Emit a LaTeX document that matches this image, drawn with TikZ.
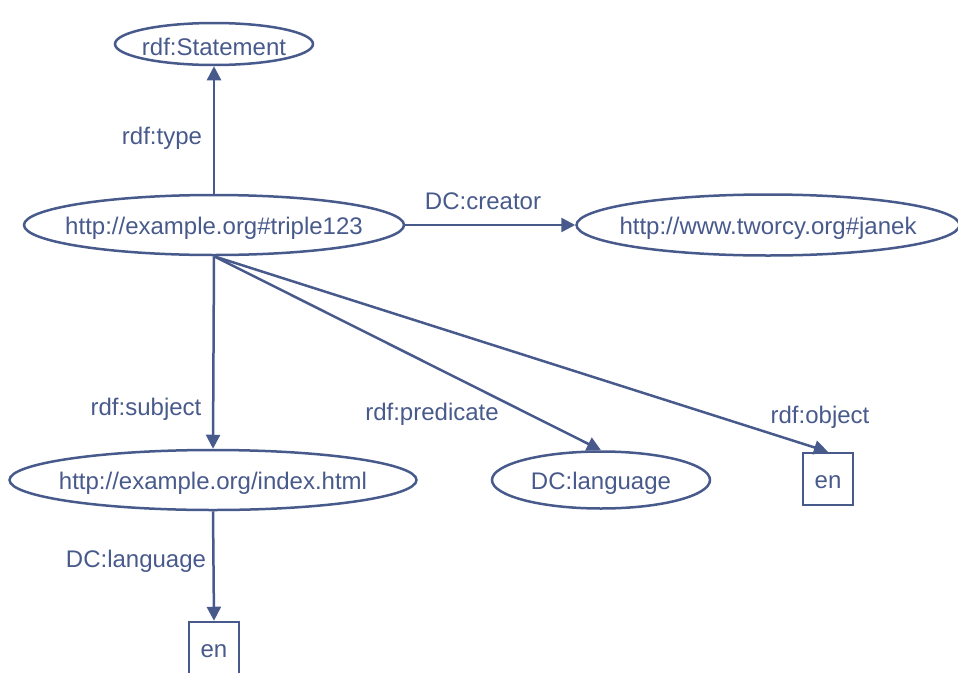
\documentclass[tikz,border=0pt]{standalone}
\usepackage{fontspec}
\setmainfont{Liberation Sans}
\usetikzlibrary{shapes.geometric,arrows.meta}
\definecolor{rdfblue}{RGB}{72,90,140}
\tikzset{
  every node/.style={text=rdfblue, font=\fontsize{24}{28}\selectfont},
  txt/.style={inner sep=0pt, yshift=-3pt},
  res/.style={ellipse, draw=rdfblue, line width=2.5pt, inner sep=0pt,
              label={[txt]center:#1}},
  lit/.style={rectangle, draw=rdfblue, line width=2.5pt, inner sep=0pt,
              minimum width=50pt, minimum height=52pt, label={[txt]center:#1}},
  edge/.style={draw=rdfblue, line width=2.5pt,
               -{Triangle[length=14pt,width=14pt]}},
  lbl/.style={inner sep=0pt}
}
\begin{document}
\begin{tikzpicture}[x=1pt,y=-1pt]
  \clip (0,0) rectangle (958,672);
  % resources (ellipses) and literals (boxes)
  \node[res={rdf:Statement}, minimum width=198pt, minimum height=42pt] (stmt) at (214,44) {};
  \node[res={http://example.org\#triple123}, minimum width=380pt, minimum height=60pt] (triple) at (214,225) {};
  \node[res={http://www.tworcy.org\#janek}, minimum width=383pt, minimum height=61pt] (janek) at (768,225) {};
  \node[res={http://example.org/index.html}, minimum width=407pt, minimum height=60pt] (index) at (213,480) {};
  \node[res={DC:language}, minimum width=218pt, minimum height=57pt] (lang) at (601,480) {};
  \node[lit=en] (enR) at (828,479) {};
  \node[lit=en] (enB) at (214,648) {};
  % properties
  \draw[edge] (triple.north) -- (stmt.south);
  \draw[edge] (triple.east) -- (janek.west);
  \draw[edge] (triple.south) -- (index.north);
  \draw[edge] (triple.south) -- (lang.north);
  \draw[edge] (triple.south) -- (enR.north);
  \draw[edge] (index.south) -- (enB.north);
  % property labels
  \node[lbl] (ltype) at (162,138) {rdf:type};
  \node[lbl] (lcreator) at (483,201) {DC:creator};
  \node[lbl] (lsubject) at (146,409) {rdf:subject};
  \node[lbl] (lpred) at (432,414) {rdf:predicate};
  \node[lbl] (lobject) at (820,417) {rdf:object};
  \node[lbl] (llang) at (136,561) {DC:language};
\end{tikzpicture}
\end{document}
